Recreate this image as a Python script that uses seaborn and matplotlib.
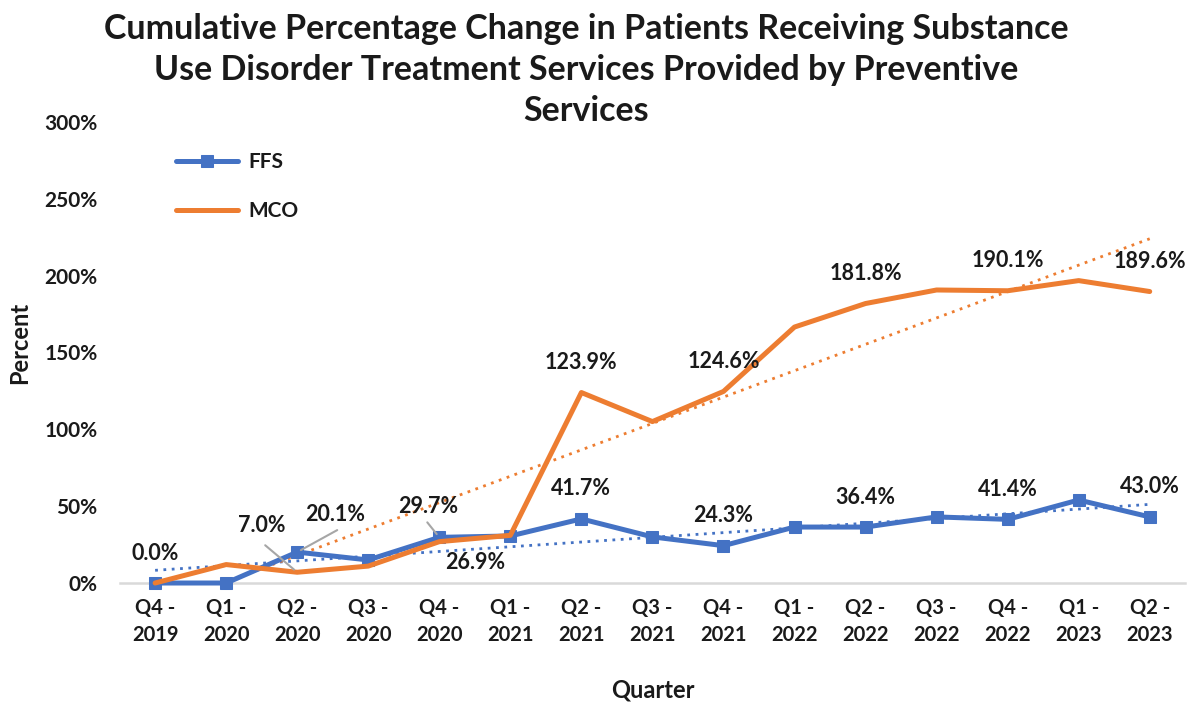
import numpy as np
import pandas as pd
import matplotlib
matplotlib.use("Agg")
import matplotlib.pyplot as plt
import seaborn as sns

quarters = ["Q4 -\n2019", "Q1 -\n2020", "Q2 -\n2020", "Q3 -\n2020", "Q4 -\n2020",
            "Q1 -\n2021", "Q2 -\n2021", "Q3 -\n2021", "Q4 -\n2021", "Q1 -\n2022",
            "Q2 -\n2022", "Q3 -\n2022", "Q4 -\n2022", "Q1 -\n2023", "Q2 -\n2023"]

ffs = [0.0, 0.0, 20.1, 15.0, 29.7, 30.6, 41.7, 30.0, 24.3, 36.4, 36.4, 43.0, 41.4, 54.0, 43.0]
mco = [0.0, 12.0, 7.0, 11.0, 26.9, 31.0, 123.9, 105.0, 124.6, 166.5, 181.8, 190.6, 190.1, 196.7, 189.6]

# labels shown on the chart (None = no label)
ffs_labels = ["0.0%", None, "20.1%", None, "29.7%", None, "41.7%", None, "24.3%",
              None, "36.4%", None, "41.4%", None, "43.0%"]
mco_labels = [None, None, "7.0%", None, "26.9%", None, "123.9%", None, "124.6%",
              None, "181.8%", None, "190.1%", None, "189.6%"]

BLUE = "#4472C4"
ORANGE = "#ED7D31"
TXT = "#1a1a1a"

sns.set_style("white")
plt.rcParams["font.family"] = ["Lato", "DejaVu Sans"]
plt.rcParams["font.weight"] = "bold"

df = pd.DataFrame({"x": range(len(quarters)), "FFS": ffs, "MCO": mco})

fig = plt.figure(figsize=(11.96, 7.02), dpi=100)
ax = fig.add_axes([0.1, 0.1695, 0.891, 0.657])

sns.lineplot(data=df, x="x", y="FFS", ax=ax, color=BLUE, linewidth=3.6,
             marker="s", markersize=8.5, markeredgecolor=BLUE, label="FFS",
             clip_on=False, zorder=3)
sns.lineplot(data=df, x="x", y="MCO", ax=ax, color=ORANGE, linewidth=3.6,
             label="MCO", clip_on=False, zorder=4)

# linear trendlines
xs = df["x"].to_numpy()
for col, c in [("FFS", BLUE), ("MCO", ORANGE)]:
    k, b = np.polyfit(xs, df[col].to_numpy(), 1)
    ax.plot(xs, k * xs + b, linestyle=(0, (1, 2)), color=c, linewidth=2, zorder=2)

# data labels, default is above the point
special = {
    ("FFS", 2): dict(dx=38, dy=38),
    ("MCO", 2): dict(dx=-35, dy=47),
    ("FFS", 4): dict(dx=-11, dy=31),
    ("MCO", 4): dict(dx=36, dy=-21),
}

for col, labels in [("FFS", ffs_labels), ("MCO", mco_labels)]:
    vals = df[col].to_numpy()
    for i, lab in enumerate(labels):
        if lab is None:
            continue
        opt = special.get((col, i), {})
        ax.annotate(lab, (i, vals[i]), xytext=(opt.get("dx", 0), opt.get("dy", 30)),
                    textcoords="offset pixels", ha="center", va="center",
                    fontsize=15.5, fontweight="bold", color=TXT, zorder=6)

# leader lines for the crowded labels
leaders = [("MCO", 2, (-32, 27)),
           ("FFS", 2, (40, 22)),
           ("FFS", 4, (-12, 15))]
for col, i, p0 in leaders:
    v = df[col].iloc[i]
    ax.annotate("", xy=(i, v), xytext=p0, textcoords="offset pixels",
                arrowprops=dict(arrowstyle="-", color="#A6A6A6", lw=1.5,
                                shrinkA=0, shrinkB=3), zorder=5)

ax.set_xlim(-0.5, len(quarters) - 0.5)
ax.set_ylim(0, 300)
ax.set_xticks(xs)
ax.set_xticklabels(quarters, fontsize=14.5, fontweight="bold", color=TXT,
                   linespacing=1.45)
ax.set_yticks(range(0, 301, 50))
ax.set_yticklabels([f"{v}%" for v in range(0, 301, 50)], fontsize=15,
                   fontweight="bold", color=TXT)
ax.tick_params(axis="x", length=0, pad=11)
ax.tick_params(axis="y", length=0, pad=16)
for s in ["top", "right", "left"]:
    ax.spines[s].set_visible(False)
ax.spines["bottom"].set_color("#D9D9D9")
ax.spines["bottom"].set_linewidth(1.8)
ax.spines["bottom"].set_zorder(1)

ax.set_xlabel("Quarter", fontsize=17, fontweight="bold", labelpad=24, color=TXT)
ax.set_ylabel("Percent", fontsize=17, fontweight="bold", color=TXT)
ax.yaxis.set_label_coords(-0.083, 0.52)

leg = ax.legend(loc="upper left", bbox_to_anchor=(0.035, 0.975), frameon=False,
                fontsize=15, handlelength=3.0, labelspacing=1.4, handletextpad=0.5)
for t in leg.get_texts():
    t.set_fontweight("bold")
    t.set_color(TXT)

fig.text(0.49, 0.982, "Cumulative Percentage Change in Patients Receiving Substance\n"
         "Use Disorder Treatment Services Provided by Preventive\nServices",
         ha="center", va="top", fontsize=24.5, fontweight="bold", linespacing=1.35,
         color=TXT)

fig.savefig("out.png", dpi=100)
